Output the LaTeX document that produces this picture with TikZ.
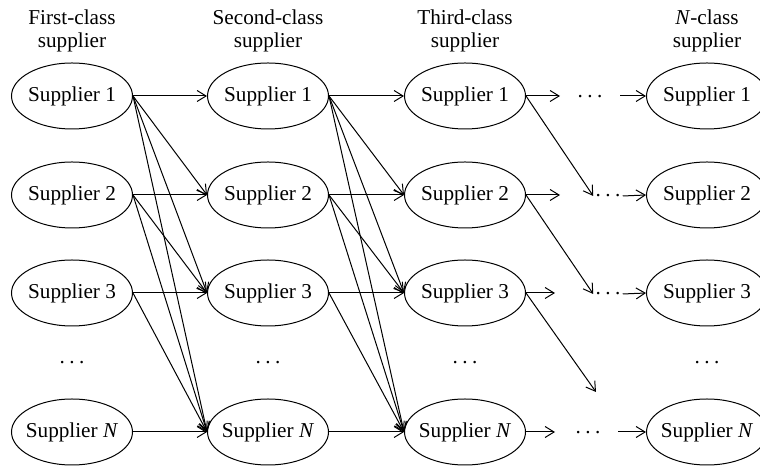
\documentclass[tikz,border=0pt]{standalone}
\usepackage{fontspec}
\setmainfont{Liberation Serif}
\usetikzlibrary{shapes.geometric,arrows.meta}
\newcommand{\supdots}{.\kern2.2pt.\kern2.2pt.}

\begin{document}
\begin{tikzpicture}[x=0.5pt,y=0.5pt,
  supplier/.style={draw, ellipse, line width=0.5pt, minimum width=60.5pt, minimum height=33pt, inner xsep=-4pt, inner ysep=0pt, font=\fontsize{10.6}{11.5}\selectfont},
  header/.style={align=center, inner sep=0pt, font=\fontsize{10.6}{11.5}\selectfont},
  dotsnode/.style={inner sep=1pt, font=\fontsize{10.6}{11.5}\selectfont},
  link/.style={line width=0.5pt, -{Straight Barb[length=4.5pt,width=5.5pt]}}]
  \useasboundingbox (0,0) rectangle (760,470);

  % class headers
  \node[header] (h1) at (72,439) {First-class\\supplier};
  \node[header] (h2) at (268,439) {Second-class\\supplier};
  \node[header] (h3) at (465,439) {Third-class\\supplier};
  \node[header] (h4) at (707,439) {\textit{N}-class\\supplier};

  % first class
  \node[supplier] (a1) at (72,374) {Supplier 1};
  \node[supplier] (a2) at (72,275) {Supplier 2};
  \node[supplier] (a3) at (72,177) {Supplier 3};
  \node[dotsnode] (a4) at (72,107) {\supdots};
  \node[supplier] (aN) at (72,38) {Supplier \textit{N}};

  % second class
  \node[supplier] (b1) at (268,374) {Supplier 1};
  \node[supplier] (b2) at (268,275) {Supplier 2};
  \node[supplier] (b3) at (268,177) {Supplier 3};
  \node[dotsnode] (b4) at (268,107) {\supdots};
  \node[supplier] (bN) at (268,38) {Supplier \textit{N}};

  % third class
  \node[supplier] (c1) at (465,374) {Supplier 1};
  \node[supplier] (c2) at (465,275) {Supplier 2};
  \node[supplier] (c3) at (465,177) {Supplier 3};
  \node[dotsnode] (c4) at (465,107) {\supdots};
  \node[supplier] (cN) at (465,38) {Supplier \textit{N}};

  % N-class
  \node[supplier] (n1) at (707,374) {Supplier 1};
  \node[supplier] (n2) at (707,275) {Supplier 2};
  \node[supplier] (n3) at (707,177) {Supplier 3};
  \node[dotsnode] (n4) at (707,107) {\supdots};
  \node[supplier] (nN) at (707,38) {Supplier \textit{N}};

  % first -> second
  \draw[link] (a1.east) -- (b1.west);
  \draw[link] (a1.east) -- (b2.west);
  \draw[link] (a1.east) -- (b3.west);
  \draw[link] (a1.east) -- (bN.west);
  \draw[link] (a2.east) -- (b2.west);
  \draw[link] (a2.east) -- (b3.west);
  \draw[link] (a2.east) -- (bN.west);
  \draw[link] (a3.east) -- (b3.west);
  \draw[link] (a3.east) -- (bN.west);
  \draw[link] (aN.east) -- (bN.west);

  % second -> third
  \draw[link] (b1.east) -- (c1.west);
  \draw[link] (b1.east) -- (c2.west);
  \draw[link] (b1.east) -- (c3.west);
  \draw[link] (b1.east) -- (cN.west);
  \draw[link] (b2.east) -- (c2.west);
  \draw[link] (b2.east) -- (c3.west);
  \draw[link] (b2.east) -- (cN.west);
  \draw[link] (b3.east) -- (c3.west);
  \draw[link] (b3.east) -- (cN.west);
  \draw[link] (bN.east) -- (cN.west);

  % third -> N-class
  \coordinate (s1) at (560,374);
  \coordinate (s2) at (560,275);
  \coordinate (s3) at (555,177);
  \coordinate (sN) at (555,38);
  \coordinate (t1) at (620,374);
  \coordinate (tN) at (618,38);
  \coordinate (e3) at (596,78);
  \node[dotsnode] (d1) at (590,373) {\supdots};
  \node[dotsnode] (d2) at (608,274) {\supdots};
  \node[dotsnode] (d3) at (608,176) {\supdots};
  \node[dotsnode] (dN) at (588,37) {\supdots};

  \draw[link] (c1.east) -- (s1);
  \draw[link] (c2.east) -- (s2);
  \draw[link] (c3.east) -- (s3);
  \draw[link] (cN.east) -- (sN);
  \draw[link] (c1.east) -- (d2.west);
  \draw[link] (c2.east) -- (d3.west);
  \draw[link] (c3.east) -- (e3);
  \draw[link] (t1) -- (n1.west);
  \draw[link] (d2.east) -- (n2.west);
  \draw[link] (d3.east) -- (n3.west);
  \draw[link] (tN) -- (nN.west);
\end{tikzpicture}
\end{document}
